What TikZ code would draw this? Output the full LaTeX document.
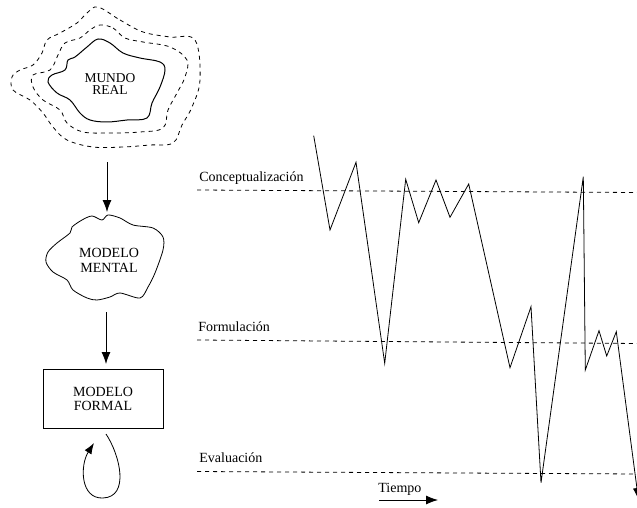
\documentclass[tikz,border=0pt]{standalone}
\usepackage{fontspec}
\setmainfont{Liberation Serif}
\newfontfamily\tnr{Liberation Serif}
\usetikzlibrary{arrows.meta}
\begin{document}
\begin{tikzpicture}[x=1pt,y=-1pt,
  line width=0.8pt,
  lbl/.style={font=\tnr\fontsize{14}{15}\selectfont, inner sep=0pt, anchor=base west},
  boxtxt/.style={align=center, inner sep=0pt},
  dashline/.style={dash pattern=on 4pt off 4pt, line width=0.8pt},
  tip/.style={-{Latex[length=12pt,width=9pt]}},
]
\useasboundingbox (0,0) rectangle (637,508);

% --- MUNDO REAL ---
\draw[line width=1pt] plot[smooth cycle, tension=0.6] coordinates {
 (98,39) (110,43) (123,53) (140,58) (160,62) (165,70) (160,87) (152,103)
 (147,118) (127,120) (107,122) (90,120) (80,113) (70,100) (57,93) (48,82)
 (52,75) (65,70) (68,60) (75,57) (87,47)};
\draw[dashline] plot[smooth cycle, tension=0.6] coordinates {
 (100,25) (113,28) (125,38) (143,42) (170,47) (187,60) (185,77) (177,93)
 (168,110) (163,128) (140,132) (110,133) (83,132) (67,123) (60,110) (43,100)
 (33,87) (33,75) (50,70) (58,55) (65,43) (80,38) (90,30)};
\draw[dashline] plot[smooth cycle, tension=0.6] coordinates {
 (98,7) (120,20) (143,32) (170,37) (195,40) (200,80) (192,107) (182,125)
 (173,143) (150,145) (123,147) (93,147) (67,140) (53,127) (43,113) (30,100)
 (13,90) (12,77) (20,70) (33,65) (42,53) (47,40) (60,33) (77,23) (87,13)};
\node[boxtxt, font=\tnr\fontsize{13.5}{12.5}\selectfont] (mundo) at (110,84) {MUNDO\\REAL};

% --- MODELO MENTAL ---
\draw[line width=0.8pt] plot[smooth cycle, tension=0.5] coordinates {
 (48,252) (57,243) (70,233) (72,227) (82,220) (92,216) (102,220) (108,215)
 (120,218) (133,225) (153,228) (163,237) (163,250) (155,273) (148,287)
 (140,298) (120,293) (110,297) (97,300) (87,298) (73,290) (67,280) (53,272) (46,262)};
\node[boxtxt, font=\tnr\fontsize{14}{15}\selectfont] (mental) at (109,260) {MODELO\\MENTAL};

% --- MODELO FORMAL ---
\node[draw, line width=0.8pt, minimum width=120pt, minimum height=59pt,
      boxtxt, font=\tnr\fontsize{14}{14}\selectfont] (formal) at (103,398.5) {MODELO\\FORMAL};

% connectors
\coordinate (a1s) at (107,162);
\coordinate (a1e) at (107,212);
\coordinate (a2s) at (106,312);
\coordinate (a2e) at (106,364);
\draw[tip] (a1s) -- (a1e);
\draw[tip] (a2s) -- (a2e);
\coordinate (ls) at (106,434);
\coordinate (le) at (94,443);
\draw[-{Latex[length=11pt,width=8pt]}] (ls) .. controls (120,455) and (130,497) .. (103,498)
               .. controls (80,499) and (80,465) .. (le);

% --- levels ---
\node[lbl] (lc) at (199,181.5) {Conceptualización};
\node[lbl] (lf) at (198,331.5) {Formulación};
\node[lbl] (le2) at (199,462) {Evaluación};
\coordinate (c0) at (197,190); \coordinate (c1) at (637,192.5);
\coordinate (f0) at (197,340); \coordinate (f1) at (637,343.5);
\coordinate (e0) at (197,471.5); \coordinate (e1) at (637,474);
\draw[dashline] (c0) -- (c1);
\draw[dashline] (f0) -- (f1);
\draw[dashline] (e0) -- (e1);

% --- trajectory ---
\draw[line width=0.8pt, -{Latex[length=12pt,width=8pt]}] (313.7,135.7) -- (330,230) -- (356,162.3) -- (384.7,363.3)
 -- (405.7,179.3) -- (418.7,222.7) -- (436,180) -- (450,217.3) -- (468.7,184)
 -- (510,367.7) -- (531,306.7) -- (541,482.7) -- (583.3,176.7) -- (585.3,370)
 -- (599,330.7) -- (606.7,356) -- (616.3,331.7) -- (638.5,500);

% --- time ---
\node[lbl] (tiempo) at (378,492) {Tiempo};
\coordinate (t0) at (379,500);
\coordinate (t1) at (438,500);
\draw[tip] (t0) -- (t1);
\end{tikzpicture}
\end{document}
